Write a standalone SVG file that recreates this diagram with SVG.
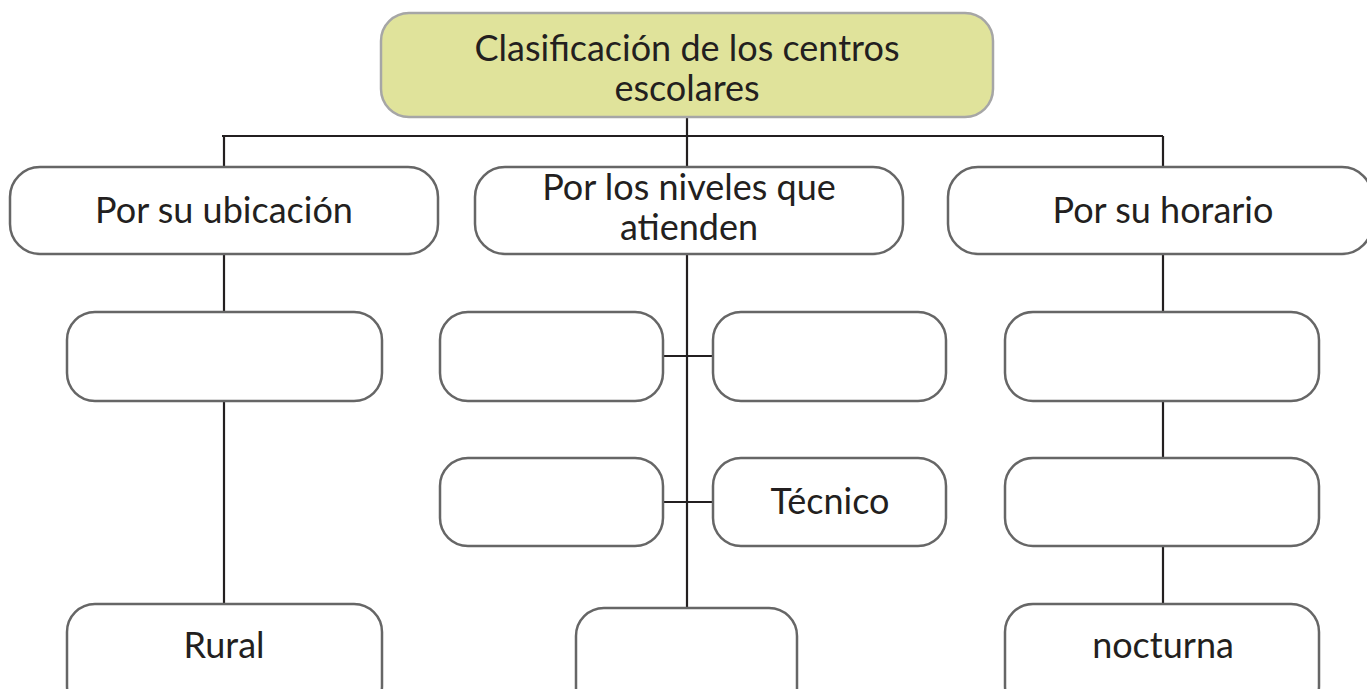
<svg xmlns="http://www.w3.org/2000/svg" width="1367" height="689" viewBox="0 0 1367 689">
<style>
.box{fill:#ffffff;stroke:#666666;stroke-width:2.5}
.root{fill:#e0e39b;stroke:#a6a6a6;stroke-width:2.5}
.ln{stroke:#231f20;stroke-width:2.2;fill:none}
text{font-family:Lato,"Open Sans","Liberation Sans",sans-serif;font-size:36px;fill:#231f20;text-anchor:middle}
</style>
<rect width="1367" height="689" fill="#ffffff"/>
<g id="connectors">
<path class="ln" d="M687 117V167M222 136H1163M224 136V167M1163 136V167"/>
<path class="ln" d="M224 254V312M224 401V604"/>
<path class="ln" d="M687 254V608M663 356H713M663 502H713"/>
<path class="ln" d="M1163 254V312M1163 401V458M1163 546V604"/>
</g>
<g id="root"><rect class="root" x="381" y="13" width="612" height="104" rx="28"/>
<text x="687" y="61">Clasificación de los centros</text><text x="687" y="101">escolares</text></g>
<g id="ubicacion"><rect class="box" x="10" y="167" width="428" height="87" rx="30"/><text x="224" y="223">Por su ubicación</text></g>
<g id="niveles"><rect class="box" x="475" y="167" width="428" height="87" rx="30"/><text x="689" y="200">Por los niveles que</text><text x="689" y="240">atienden</text></g>
<g id="horario"><rect class="box" x="948" y="167" width="424" height="87" rx="30"/><text x="1163" y="223">Por su horario</text></g>
<g id="ubic1"><rect class="box" x="67" y="312" width="315" height="89" rx="28"/></g>
<g id="rural"><rect class="box" x="67" y="604" width="315" height="110" rx="28"/><text x="224" y="658">Rural</text></g>
<g id="niv1"><rect class="box" x="440" y="312" width="223" height="89" rx="28"/></g>
<g id="niv2"><rect class="box" x="713" y="312" width="233" height="89" rx="28"/></g>
<g id="niv3"><rect class="box" x="440" y="458" width="223" height="88" rx="28"/></g>
<g id="tecnico"><rect class="box" x="713" y="458" width="233" height="88" rx="28"/><text x="830" y="514">Técnico</text></g>
<g id="niv5"><rect class="box" x="576" y="608" width="221" height="110" rx="28"/></g>
<g id="hor1"><rect class="box" x="1005" y="312" width="314" height="89" rx="28"/></g>
<g id="hor2"><rect class="box" x="1005" y="458" width="314" height="88" rx="28"/></g>
<g id="nocturna"><rect class="box" x="1005" y="604" width="314" height="110" rx="28"/><text x="1163" y="658">nocturna</text></g>
</svg>
